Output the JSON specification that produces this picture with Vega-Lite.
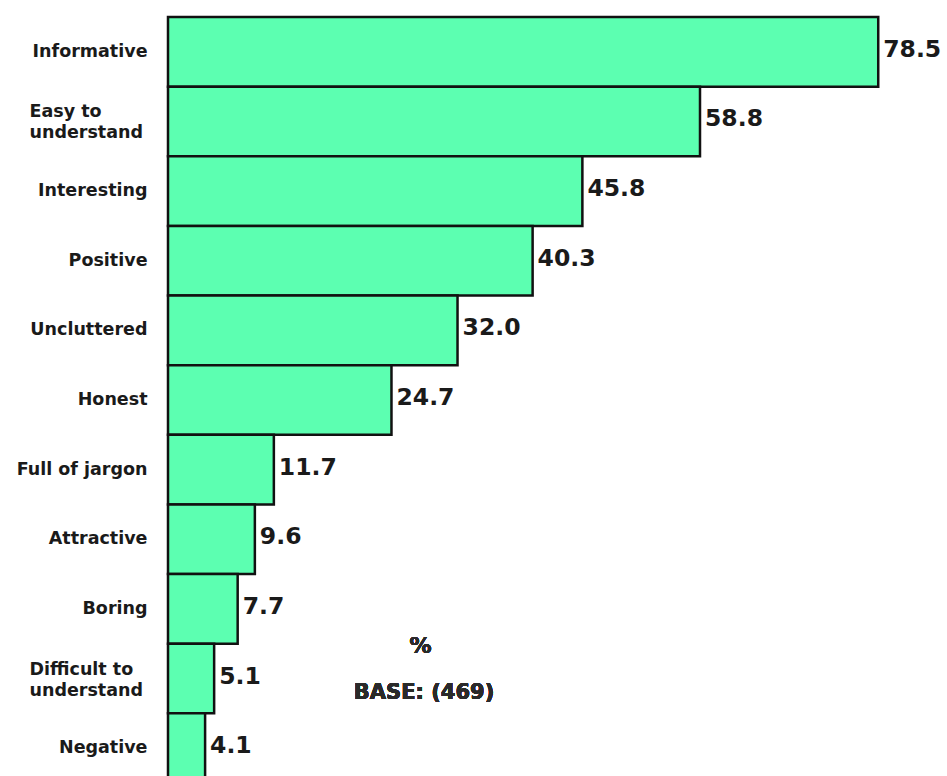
{
  "$schema": "https://vega.github.io/schema/vega-lite/v6.json",
  "width": 779,
  "height": 766,
  "autosize": "none",
  "padding": {"left": 168, "top": 17, "right": 0, "bottom": 0},
  "background": "white",
  "config": {"view": {"stroke": null}},
  "data": {
    "values": [
      {"attribute": "Informative", "pct": 78.5},
      {"attribute": "Easy to understand", "pct": 58.8},
      {"attribute": "Interesting", "pct": 45.8},
      {"attribute": "Positive", "pct": 40.3},
      {"attribute": "Uncluttered", "pct": 32.0},
      {"attribute": "Honest", "pct": 24.7},
      {"attribute": "Full of jargon", "pct": 11.7},
      {"attribute": "Attractive", "pct": 9.6},
      {"attribute": "Boring", "pct": 7.7},
      {"attribute": "Difficult to understand", "pct": 5.1},
      {"attribute": "Negative", "pct": 4.1}
    ]
  },
  "encoding": {
    "y": {
      "field": "attribute",
      "type": "nominal",
      "sort": null,
      "scale": {"paddingInner": 0, "paddingOuter": 0},
      "axis": {
        "title": null,
        "ticks": false,
        "domain": true,
        "domainColor": "#111",
        "domainWidth": 2,
        "labelFont": "DejaVu Sans",
        "labelFontWeight": "bold",
        "labelFontSize": 17.5,
        "labelColor": "#1a1a1a",
        "labelLineHeight": 21,
        "labelLimit": 200,
        "labelPadding": {"condition": {"test": "indexof(datum.value, ' to ') > 0", "value": 139}, "value": 21},
        "labelAlign": {"condition": {"test": "indexof(datum.value, ' to ') > 0", "value": "left"}, "value": "right"},
        "labelOffset": {"condition": {"test": "indexof(datum.value, ' to ') > 0", "value": -9}, "value": 0},
        "labelExpr": "datum.value == 'Easy to understand' ? ['Easy to', 'understand'] : datum.value == 'Difficult to understand' ? ['Difficult to', 'understand'] : datum.value"
      }
    },
    "x": {
      "field": "pct",
      "type": "quantitative",
      "scale": {"domain": [0, 86.1], "nice": false},
      "axis": null
    }
  },
  "layer": [
    {
      "mark": {"type": "bar", "fill": "#5cffb1", "stroke": "#111", "strokeWidth": 2.5}
    },
    {
      "mark": {"type": "text", "align": "left", "baseline": "middle", "dx": 5, "dy": -2, "font": "DejaVu Sans", "fontWeight": "bold", "fontSize": 23.5, "color": "#1a1a1a"},
      "encoding": {"text": {"field": "pct", "type": "quantitative", "format": ".1f"}}
    },
    {
      "mark": {"type": "text", "align": "center", "baseline": "middle", "dy": -33, "font": "DejaVu Sans", "fontWeight": "bold", "fontSize": 22, "color": "#2a2a2a", "text": "%"},
      "encoding": {"x": {"datum": 27.9}, "y": {"datum": "Difficult to understand"}}
    },
    {
      "mark": {"type": "text", "align": "center", "baseline": "middle", "dy": 14, "font": "DejaVu Sans", "fontWeight": "bold", "fontSize": 21, "color": "#2a2a2a", "text": "BASE: (469)"},
      "encoding": {"x": {"datum": 28.3}, "y": {"datum": "Difficult to understand"}}
    }
  ]
}
